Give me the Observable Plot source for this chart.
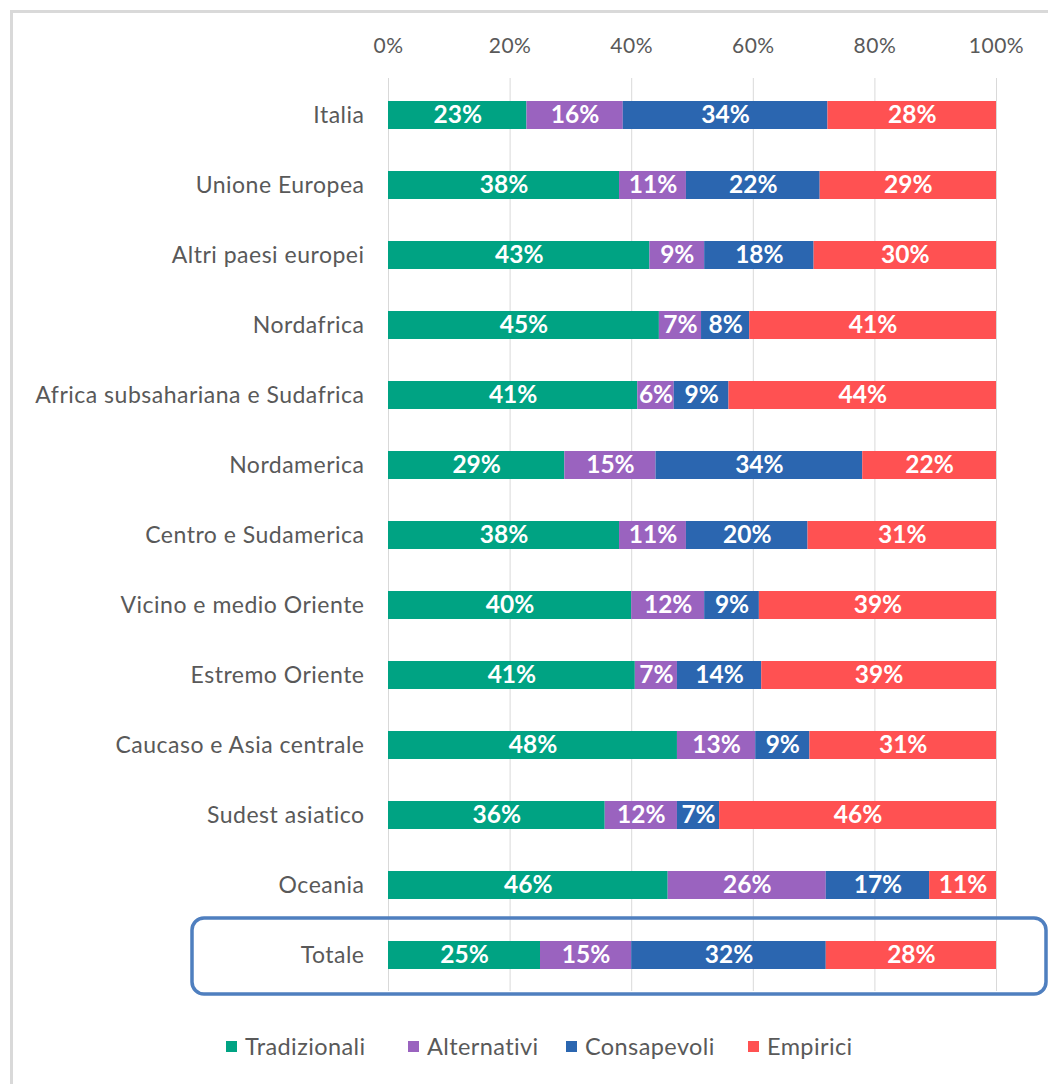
<!DOCTYPE html>
<html>
<head>
<meta charset="utf-8">
<script src="https://cdn.jsdelivr.net/npm/d3@7"></script>
<script src="https://cdn.jsdelivr.net/npm/@observablehq/plot@0.6"></script>
<style>
  html, body { margin: 0; padding: 0; background: #fff; }
  #wrap { position: relative; width: 1048px; height: 1084px; overflow: hidden; font-family: Lato, "Open Sans", sans-serif; }
  #frame { position: absolute; left: 10px; top: 10px; width: 1100px; height: 1200px; border-left: 3px solid #d9d9d9; border-top: 3px solid #d9d9d9; box-sizing: border-box; }
  #chart { position: absolute; left: 0; top: 0; }
  #legend { position: absolute; left: 0; top: 1032px; width: 1048px; font-size: 23.5px; color: #595959; letter-spacing: 0.4px; }
  .item { position: absolute; display: flex; align-items: center; white-space: nowrap; }
  .sw { width: 11px; height: 11px; margin-right: 8px; display: inline-block; }
</style>
</head>
<body>
<div id="wrap">
  <div id="frame"></div>
  <div id="chart"></div>
  <div id="legend"></div>
</div>
<script>
const regions = ["Italia", "Unione Europea", "Altri paesi europei", "Nordafrica", "Africa subsahariana e Sudafrica", "Nordamerica", "Centro e Sudamerica", "Vicino e medio Oriente", "Estremo Oriente", "Caucaso e Asia centrale", "Sudest asiatico", "Oceania", "Totale"];
const categories = ["Tradizionali", "Alternativi", "Consapevoli", "Empirici"];
const colors = ["#00a383", "#9a63bf", "#2b66b0", "#ff5152"];
const tradizionali = [23, 38, 43, 45, 41, 29, 38, 40, 41, 48, 36, 46, 25];
const alternativi  = [16, 11,  9,  7,  6, 15, 11, 12,  7, 13, 12, 26, 15];
const consapevoli  = [34, 22, 18,  8,  9, 34, 20,  9, 14,  9,  7, 17, 32];
const empirici     = [28, 29, 30, 41, 44, 22, 31, 39, 39, 31, 46, 11, 28];
const xTicks = [0, 0.2, 0.4, 0.6, 0.8, 1];

const series = [tradizionali, alternativi, consapevoli, empirici];
const data = [];
regions.forEach((r, i) => {
  categories.forEach((c, j) => data.push({region: r, category: c, value: series[j][i]}));
});

const plot = Plot.plot({
  width: 1048,
  height: 1010,
  marginLeft: 388,
  marginRight: 52,
  marginTop: 78,
  marginBottom: 19,
  style: {fontFamily: "Lato, 'Open Sans', sans-serif", background: "transparent"},
  x: {domain: [0, 1]},
  y: {domain: regions, paddingInner: 0.6, paddingOuter: 0.3},
  color: {domain: categories, range: colors},
  marks: [
    Plot.gridX(xTicks, {stroke: "#d9d9d9", strokeOpacity: 1, strokeWidth: 1}),
    Plot.barX(data, Plot.stackX({x: "value", y: "region", fill: "category", z: "category", offset: "normalize"})),
    Plot.text(data, Plot.stackX({x: "value", y: "region", z: "category", offset: "normalize", text: d => d.value + "%", fill: "white", fontWeight: "bold", fontSize: 24.5})),
    Plot.axisX({anchor: "top", ticks: xTicks, tickFormat: d3.format(".0%"), tickSize: 0, tickPadding: 26, fontSize: 21, fill: "#595959", label: null}),
    Plot.axisY({tickSize: 0, tickPadding: 24, fontSize: 23, fill: "#595959", label: null})
  ]
});
document.getElementById("chart").appendChild(plot);
d3.select(plot).selectAll("[aria-label='y-axis tick label'] text, [aria-label='x-axis tick label'] text").style("letter-spacing", "0.5px");

// Highlight box around "Totale" row, positioned from the scales
const ys = plot.scale("y");
const xs = plot.scale("x");
const cy = ys.apply("Totale") + ys.bandwidth / 2;
const x0 = xs.apply(0), x1 = xs.apply(1);
d3.select(plot).append("rect")
  .attr("x", x0 - 196).attr("y", cy - 37)
  .attr("width", (x1 + 50) - (x0 - 196)).attr("height", 76)
  .attr("rx", 12).attr("ry", 12)
  .attr("fill", "none").attr("stroke", "#4f7fbf").attr("stroke-width", 3.5);

// Legend
const legend = document.getElementById("legend");
const legendX = [226, 408, 566, 748];
categories.forEach((c, i) => {
  const it = document.createElement("div");
  it.className = "item";
  it.style.left = legendX[i] + "px";
  it.innerHTML = `<span class="sw" style="background:${colors[i]}"></span><span>${c}</span>`;
  legend.appendChild(it);
});
</script>
</body>
</html>
